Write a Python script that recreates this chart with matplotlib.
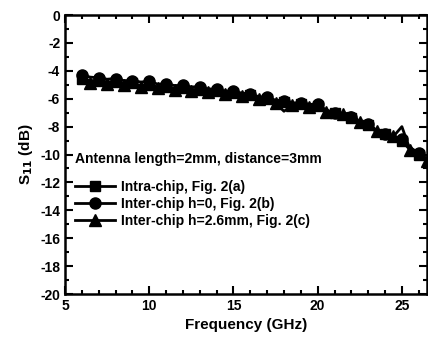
import matplotlib
matplotlib.use("Agg")
import matplotlib.pyplot as plt
from matplotlib.ticker import MultipleLocator

plt.rcParams["font.family"] = ["Liberation Sans", "DejaVu Sans"]
plt.rcParams["font.weight"] = "bold"
plt.rcParams["axes.unicode_minus"] = False

freq = [6.0, 6.5, 7.0, 7.5, 8.0, 8.5, 9.0, 9.5, 10.0, 10.5, 11.0, 11.5, 12.0, 12.5,
        13.0, 13.5, 14.0, 14.5, 15.0, 15.5, 16.0, 16.5, 17.0, 17.5, 18.0, 18.5,
        19.0, 19.5, 20.0, 20.5, 21.0, 21.5, 22.0, 22.5, 23.0, 23.5, 24.0, 24.5,
        25.0, 25.5, 26.0, 26.5]

intra = [-4.55, -4.7, -4.7, -4.8, -4.8, -4.9, -4.9, -5.05, -5.0, -5.15, -5.15, -5.25,
         -5.25, -5.35, -5.35, -5.45, -5.45, -5.55, -5.6, -5.7, -5.75, -5.95, -6.0, -6.15,
         -6.25, -6.35, -6.4, -6.5, -6.55, -6.9, -7.05, -7.3, -7.4, -7.7, -7.9, -8.4,
         -8.55, -9.0, -9.0, -9.7, -10.0, -10.4]
inter_h0 = [-4.3, -4.45, -4.5, -4.6, -4.55, -4.7, -4.7, -4.8, -4.75, -4.95, -4.95,
            -5.05, -5.05, -5.15, -5.15, -5.3, -5.3, -5.45, -5.45, -5.6, -5.65, -5.85,
            -5.9, -6.1, -6.15, -6.3, -6.3, -6.4, -6.4, -6.8, -7.0, -7.2, -7.3,
            -7.65, -7.8, -8.3, -8.5, -8.8, -8.9, -9.5, -9.9, -10.3]
inter_h26 = [-4.8, -4.85, -4.9, -4.95, -4.95, -5.05, -5.05, -5.15, -5.1, -5.25, -5.25,
             -5.35, -5.35, -5.45, -5.5, -5.55, -5.6, -5.65, -5.7, -5.8, -5.85, -6.0,
             -6.1, -6.3, -6.9, -6.45, -6.5, -6.6, -6.6, -6.95, -7.35, -7.1, -7.0,
             -7.7, -7.7, -8.3, -8.5, -8.7, -8.0, -9.7, -9.9, -10.5]

labels = ["Intra-chip, Fig. 2(a)", "Inter-chip h=0, Fig. 2(b)",
          "Inter-chip h=2.6mm, Fig. 2(c)"]

fig = plt.figure(figsize=(4.28, 3.5), dpi=100)
ax = fig.add_axes([0.152, 0.16, 0.846, 0.797])

ax.plot(freq, intra, "-s", color="black", lw=2, ms=7.5, markevery=2, label=labels[0])
ax.plot(freq, inter_h0, "-o", color="black", lw=2, ms=8, markevery=2, label=labels[1])
ax.plot(freq, inter_h26, "-^", color="black", lw=2, ms=8, markevery=(1, 2), label=labels[2])

ax.set_xlim(5, 26.5)
ax.set_ylim(-20, 0)
ax.xaxis.set_major_locator(MultipleLocator(5))
ax.xaxis.set_minor_locator(MultipleLocator(1))
ax.yaxis.set_major_locator(MultipleLocator(2))
ax.yaxis.set_minor_locator(MultipleLocator(1))
ax.tick_params(which="both", direction="in", top=True, right=True, width=1.5,
               labelsize=10)
ax.tick_params(which="major", length=6)
ax.tick_params(which="minor", length=3)
for s in ax.spines.values():
    s.set_linewidth(1.8)

ax.set_xlabel("Frequency (GHz)", fontsize=11, fontweight="bold")
ax.set_ylabel("S$_{\\mathbf{11}}$ (dB)", fontsize=11, fontweight="bold", labelpad=4)

leg = ax.legend(loc="upper left", bbox_to_anchor=(0.0, 0.545), frameon=False,
                title="Antenna length=2mm, distance=3mm", alignment="left",
                handlelength=2.9, handletextpad=0.4, labelspacing=0.22,
                borderaxespad=0.3, fontsize=10)
leg.get_title().set_fontweight("bold")
leg.get_title().set_fontsize(10)
leg._legend_box.sep = 10

fig.savefig("out.png", dpi=100)
